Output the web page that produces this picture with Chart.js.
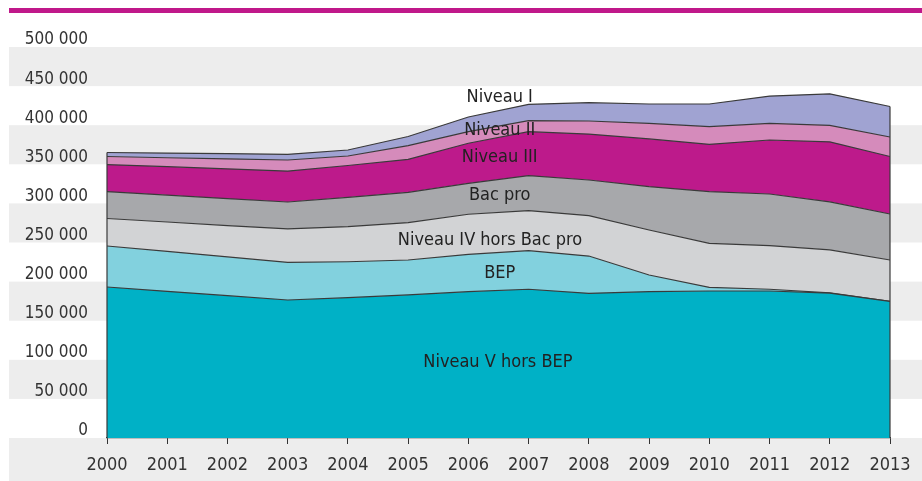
<!doctype html>
<html>
<head>
	<title>Effectifs par niveau</title>
	<script src="https://cdn.jsdelivr.net/npm/chart.js@4/dist/chart.umd.min.js"></script>
	<style>
		body { margin: 0; background: #fff; }
		#holder { width: 922px; height: 481px; }
	</style>
</head>
<body>
	<div id="holder"><canvas id="chart-area"></canvas></div>
	<script>
		// annees
		var years = ['2000', '2001', '2002', '2003', '2004', '2005', '2006',
			'2007', '2008', '2009', '2010', '2011', '2012', '2013'];

		// effectifs par niveau
		var niveauVHorsBep = [193100, 187600, 182000, 176500, 179400, 182900, 187100,
			190200, 185000, 187100, 188000, 188000, 185200, 174600];
		var bep = [52400, 51000, 49600, 48200, 46000, 44700, 47800,
			49300, 47700, 21300, 4700, 2200, 500, 0];
		var niveauIVHorsBacPro = [35200, 37600, 40100, 42600, 44800, 47700, 51200,
			51200, 51600, 57600, 56300, 55700, 54900, 53000];
		var bacPro = [34300, 34400, 34400, 34500, 37600, 38900, 39600,
			44700, 45600, 55400, 66000, 66100, 61400, 58800];
		var niveauIII = [34700, 36300, 38100, 39600, 40700, 42200, 51200,
			56300, 58800, 61000, 60600, 69100, 76700, 73600];
		var niveauII = [10300, 11500, 12800, 14100, 12100, 17400, 14800,
			14100, 16700, 20000, 22500, 21300, 21100, 24900];
		var niveauI = [5100, 5900, 6600, 7300, 7700, 11800, 18800,
			20900, 23400, 24700, 29000, 34900, 40300, 39000];

		var yTicks = [0, 50000, 100000, 150000, 200000, 250000, 300000, 350000, 400000, 450000, 500000];

		// etiquettes dans les aires : [texte, position annee, valeur]
		var areaLabels = [
			['Niveau I', 6.52, 436000],
			['Niveau II', 6.52, 394000],
			['Niveau III', 6.52, 359300],
			['Bac pro', 6.52, 310700],
			['Niveau IV hors Bac pro', 6.36, 253200],
			['BEP', 6.52, 211000],
			['Niveau V hors BEP', 6.49, 97200]
		];

		var font = "'Liberation Sans Narrow', 'DejaVu Sans Condensed', sans-serif";
		var edge = '#3a3a3a';

		function serie(label, data, color, fill) {
			return {
				label: label,
				data: data,
				backgroundColor: color,
				borderColor: edge,
				borderWidth: 1.2,
				pointRadius: 0,
				tension: 0,
				fill: fill
			};
		}

		var fondPlugin = {
			id: 'fond',
			beforeDraw: function(chart) {
				var ctx = chart.ctx;
				var y = chart.scales.y;
				ctx.save();
				ctx.fillStyle = '#ffffff';
				ctx.fillRect(0, 0, chart.width, chart.height);
				ctx.fillStyle = '#ededed';
				for (var k = 0; k < yTicks.length - 1; k++) {
					if (k % 2 === 1) {
						var top = y.getPixelForValue(yTicks[k + 1]);
						var bot = y.getPixelForValue(yTicks[k]);
						ctx.fillRect(9, top, chart.width - 9, bot - top);
					}
				}
				var zero = y.getPixelForValue(0);
				ctx.fillRect(9, zero, chart.width - 9, chart.height - zero);
				ctx.fillStyle = '#c0188a';
				ctx.fillRect(9, 8, chart.width - 9, 5);
				ctx.restore();
			},
			afterDatasetsDraw: function(chart) {
				var ctx = chart.ctx;
				var x = chart.scales.x;
				var y = chart.scales.y;
				ctx.save();
				// bords verticaux des aires
				var last = years.length - 1;
				[0, last].forEach(function(i) {
					var total = niveauVHorsBep[i] + bep[i] + niveauIVHorsBacPro[i] + bacPro[i] +
						niveauIII[i] + niveauII[i] + niveauI[i];
					var px = x.getPixelForValue(i);
					ctx.strokeStyle = edge;
					ctx.lineWidth = 1.2;
					ctx.beginPath();
					ctx.moveTo(px, y.getPixelForValue(0));
					ctx.lineTo(px, y.getPixelForValue(total));
					ctx.stroke();
				});
				ctx.fillStyle = '#222222';
				ctx.font = '18px ' + font;
				ctx.textAlign = 'center';
				ctx.textBaseline = 'middle';
				areaLabels.forEach(function(l) {
					var px = x.left + (x.right - x.left) * l[1] / last;
					ctx.fillText(l[0], px, y.getPixelForValue(l[2]));
				});
				ctx.restore();
			}
		};

		var config = {
			type: 'line',
			data: {
				labels: years,
				datasets: [
					serie('Niveau V hors BEP', niveauVHorsBep, '#00b1c6', 'origin'),
					serie('BEP', bep, '#82d1de', '-1'),
					serie('Niveau IV hors Bac pro', niveauIVHorsBacPro, '#d2d3d5', '-1'),
					serie('Bac pro', bacPro, '#a7a8ab', '-1'),
					serie('Niveau III', niveauIII, '#bd1a8b', '-1'),
					serie('Niveau II', niveauII, '#d58bbb', '-1'),
					serie('Niveau I', niveauI, '#a0a3d2', '-1')
				]
			},
			options: {
				responsive: true,
				maintainAspectRatio: false,
				animation: false,
				layout: { padding: { top: 47, right: 32, left: 0, bottom: 0 } },
				plugins: {
					legend: { display: false },
					tooltip: { enabled: false }
				},
				scales: {
					x: {
						offset: false,
						grid: { drawOnChartArea: false, drawTicks: true, tickLength: 6, color: '#333333' },
						border: { display: true, color: '#333333', width: 1.2 },
						ticks: {
							color: '#333333',
							font: { family: font, size: 18 },
							padding: 11,
							maxRotation: 0,
							autoSkip: false
						},
						afterFit: function(scale) { scale.height = 43; }
					},
					y: {
						stacked: true,
						min: 0,
						max: 500000,
						grid: { display: false, drawTicks: false },
						border: { display: false },
						ticks: {
							stepSize: 50000,
							color: '#333333',
							font: { family: font, size: 17 },
							padding: 19,
							labelOffset: -7,
							callback: function(v) {
								return String(v).replace(/\B(?=(\d{3})+(?!\d))/g, ' ');
							}
						},
						afterFit: function(scale) { scale.width = 107; }
					}
				}
			},
			plugins: [fondPlugin]
		};

		window.onload = function() {
			var ctx = document.getElementById('chart-area').getContext('2d');
			window.myArea = new Chart(ctx, config);
		};
	</script>
</body>
</html>
